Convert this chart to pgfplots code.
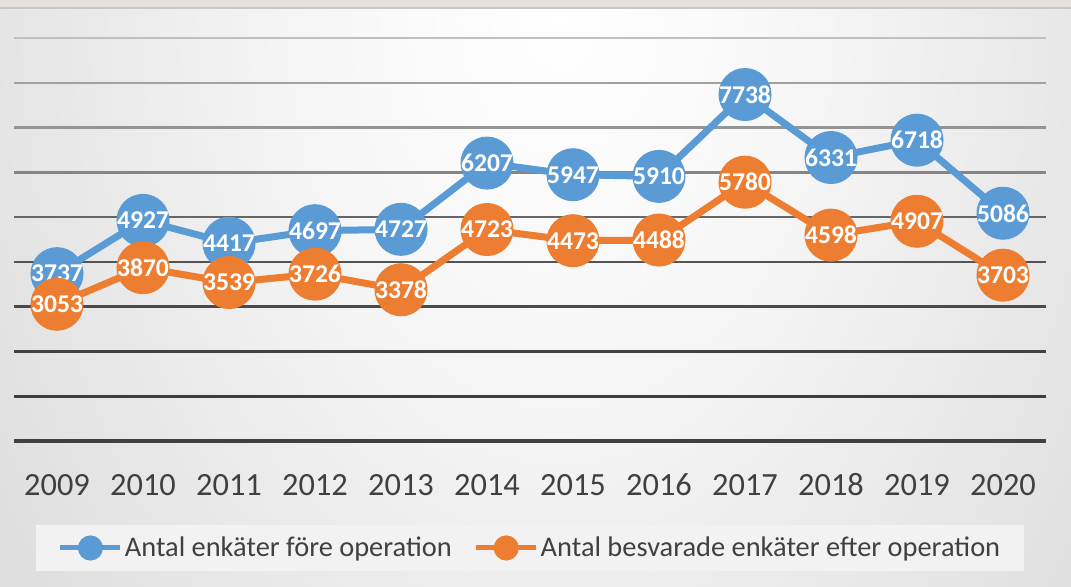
\documentclass[border=0pt]{standalone}
\usepackage{fontspec}
\setmainfont{Carlito}
\usepackage{pgfplots}
\usepackage{pgfplotstable}
\pgfplotsset{compat=1.18}

\definecolor{serA}{HTML}{5B9BD5}
\definecolor{serB}{HTML}{ED7D31}
\definecolor{txt}{HTML}{404040}
\definecolor{legbg}{HTML}{F2F2F2}
\definecolor{topbar}{HTML}{E4E0DC}

% soft light patch at the top, grey towards the sides
\pgfdeclareradialshading{bgshade}{\pgfpoint{0bp}{0bp}}{%
  color(0bp)=(white); color(10bp)=(white!96.5!black); color(20bp)=(white!91!black);
  color(30bp)=(white!85.5!black); color(40bp)=(white!81!black); color(46bp)=(white!77.6!black);
  color(55bp)=(white!75!black); color(72bp)=(white!72!black)}

\pgfplotstableread{
x  year fore efter
0  2009 3737 3053
1  2010 4927 3870
2  2011 4417 3539
3  2012 4697 3726
4  2013 4727 3378
5  2014 6207 4723
6  2015 5947 4473
7  2016 5910 4488
8  2017 7738 5780
9  2018 6331 4598
10 2019 6718 4907
11 2020 5086 3703
}\enkater

\begin{document}
\begin{tikzpicture}
\useasboundingbox (0,0) rectangle (535.5pt,293.5pt);
\begin{scope}
  \clip (0,0) rectangle (535.5pt,293.5pt);
  \begin{scope}[shift={(280pt,288.5pt)}, yscale=1.45]
    \shade[shading=bgshade] (-310pt,-310pt) rectangle (310pt,310pt);
  \end{scope}
\end{scope}
\fill[topbar] (0,289.5pt) rectangle (535.5pt,293.5pt);
\draw[white!78!black, line width=0.6pt] (0,289.5pt) -- (535.5pt,289.5pt);

\begin{axis}[
  at={(7pt,73pt)}, anchor=south west,
  scale only axis, width=516pt, height=201.5pt,
  xmin=-0.5, xmax=11.5, ymin=0, ymax=9000,
  clip=false,
  axis line style={draw=none},
  major tick length=0pt,
  ytick=\empty,
  xtick={0,...,11},
  xticklabels={2009,2010,2011,2012,2013,2014,2015,2016,2017,2018,2019,2020},
  xticklabel style={font=\fontsize{16.2}{19}\selectfont, text=txt, anchor=center, yshift=-22pt},
  legend columns=2,
  legend style={at={(0.5,-0.2655)}, anchor=center, fill=legbg, draw=none,
    font=\fontsize{14.2}{17}\selectfont, text=txt,
    inner xsep=11pt, inner ysep=4pt, nodes={inner xsep=1pt},
    /tikz/every even column/.append style={column sep=10pt}},
]
% grid lines, lighter towards the top
\draw[white!75!black, line width=1pt]  (-0.5,9000) -- (11.5,9000);
\draw[white!63!black, line width=1.2pt] (-0.5,8000) -- (11.5,8000);
\draw[white!58!black, line width=1.2pt] (-0.5,7000) -- (11.5,7000);
\draw[white!52!black, line width=1.2pt] (-0.5,6000) -- (11.5,6000);
\draw[white!40!black, line width=1.2pt] (-0.5,5000) -- (11.5,5000);
\draw[white!33!black, line width=1.2pt] (-0.5,4000) -- (11.5,4000);
\draw[white!29!black, line width=1.2pt] (-0.5,3000) -- (11.5,3000);
\draw[white!26!black, line width=1.2pt] (-0.5,2000) -- (11.5,2000);
\draw[white!24!black, line width=1.3pt] (-0.5,1000) -- (11.5,1000);
\draw[white!25!black, line width=2pt]   (-0.5,0) -- (11.5,0);

\addplot[serA, line width=3.5pt, mark=*, mark size=11.5pt,
  mark options={draw=none, fill=serA},
  point meta=explicit symbolic, nodes near coords, nodes near coords align=center,
  every node near coord/.append style={text=white, inner sep=0pt,
    font=\fontsize{12.8}{14}\selectfont\bfseries},
  legend image code/.code={\draw[serA, line width=2.5pt] (0pt,0pt) -- (30pt,0pt);
    \fill[serA] (15pt,0pt) circle (4.5pt);}]
  table[x=x, y=fore, meta=fore] {\enkater};
\addlegendentry{Antal enkäter före operation}

\addplot[serB, line width=3.5pt, mark=*, mark size=11.5pt,
  mark options={draw=none, fill=serB},
  point meta=explicit symbolic, nodes near coords, nodes near coords align=center,
  every node near coord/.append style={text=white, inner sep=0pt,
    font=\fontsize{12.8}{14}\selectfont\bfseries},
  legend image code/.code={\draw[serB, line width=2.5pt] (0pt,0pt) -- (30pt,0pt);
    \fill[serB] (15pt,0pt) circle (4.5pt);}]
  table[x=x, y=efter, meta=efter] {\enkater};
\addlegendentry{Antal besvarade enkäter efter operation}
\end{axis}
\end{tikzpicture}
\end{document}
